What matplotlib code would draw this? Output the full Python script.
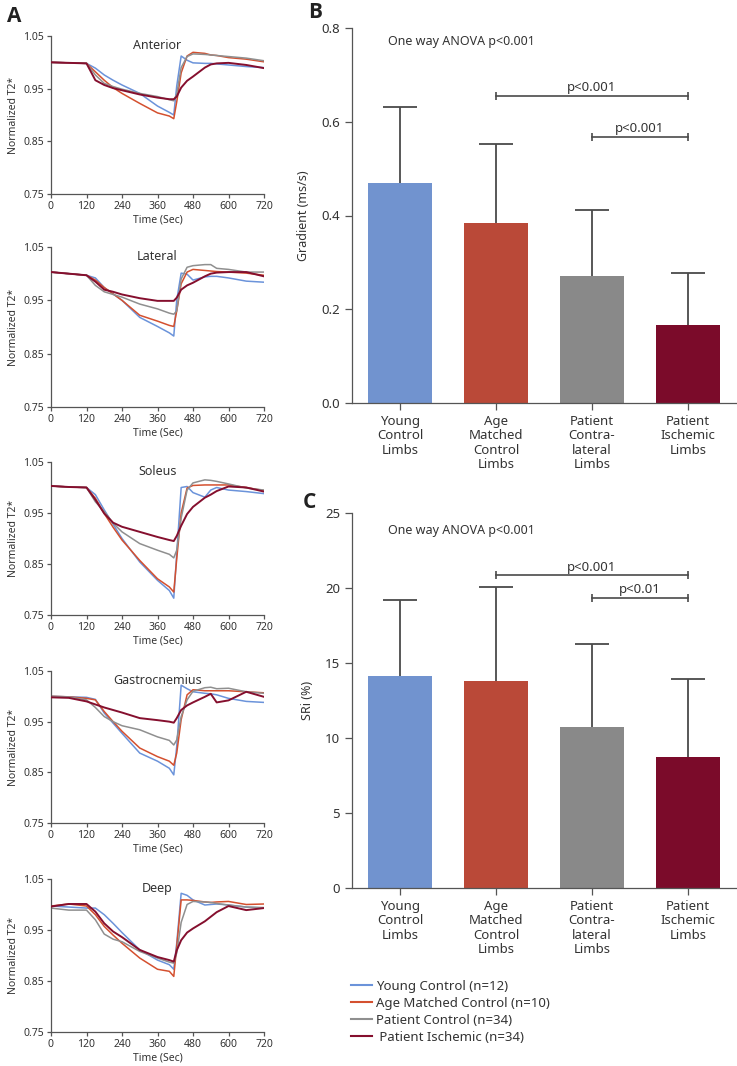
import matplotlib
matplotlib.use('Agg')
import matplotlib.pyplot as plt
from matplotlib.lines import Line2D

plt.rcParams['font.family'] = ['Noto Sans', 'DejaVu Sans']

# ---------------- data ----------------
time_sec = [0, 60, 120, 150, 180, 210, 240, 300, 360, 400, 415, 425, 440, 460, 480, 520, 540, 560, 600, 660, 720]

muscles = ['Anterior', 'Lateral', 'Soleus', 'Gastrocnemius', 'Deep']

anterior_young = [1.000, 0.999, 0.998, 0.989, 0.976, 0.966, 0.957, 0.941, 0.917, 0.905, 0.900, 0.955, 1.012, 1.004, 0.999, 0.998, 0.998, 0.997, 0.995, 0.992, 0.990]
anterior_age = [1.000, 0.999, 0.998, 0.982, 0.966, 0.952, 0.941, 0.922, 0.904, 0.898, 0.893, 0.925, 0.980, 1.012, 1.019, 1.017, 1.014, 1.013, 1.009, 1.006, 1.001]
anterior_patient = [1.000, 0.999, 0.998, 0.976, 0.960, 0.954, 0.949, 0.941, 0.935, 0.929, 0.927, 0.940, 0.990, 1.011, 1.016, 1.015, 1.014, 1.013, 1.011, 1.008, 1.003]
anterior_ischemic = [1.000, 0.999, 0.998, 0.966, 0.957, 0.951, 0.947, 0.939, 0.933, 0.930, 0.930, 0.935, 0.952, 0.965, 0.973, 0.990, 0.996, 0.998, 0.999, 0.995, 0.989]

lateral_young = [1.003, 1.000, 0.997, 0.992, 0.974, 0.962, 0.950, 0.918, 0.901, 0.889, 0.883, 0.950, 1.001, 0.999, 0.988, 0.994, 0.995, 0.995, 0.992, 0.986, 0.984]
lateral_age = [1.003, 1.000, 0.997, 0.988, 0.974, 0.962, 0.950, 0.922, 0.911, 0.903, 0.901, 0.930, 0.981, 1.003, 1.008, 1.006, 1.005, 1.004, 1.003, 1.001, 0.997]
lateral_patient = [1.003, 1.000, 0.997, 0.978, 0.966, 0.961, 0.956, 0.943, 0.934, 0.926, 0.924, 0.930, 0.990, 1.012, 1.015, 1.017, 1.017, 1.010, 1.008, 1.003, 1.003]
lateral_ischemic = [1.003, 1.000, 0.997, 0.985, 0.970, 0.966, 0.961, 0.954, 0.949, 0.949, 0.949, 0.955, 0.970, 0.978, 0.983, 0.995, 1.000, 1.002, 1.003, 1.003, 0.995]

soleus_young = [1.003, 1.001, 1.000, 0.986, 0.956, 0.928, 0.900, 0.854, 0.818, 0.798, 0.783, 0.870, 1.000, 1.002, 0.990, 0.981, 0.995, 1.000, 0.995, 0.992, 0.988]
soleus_age = [1.003, 1.001, 1.000, 0.979, 0.949, 0.922, 0.897, 0.857, 0.821, 0.805, 0.795, 0.860, 0.950, 0.999, 1.004, 1.005, 1.005, 1.005, 1.005, 1.000, 0.994]
soleus_patient = [1.003, 1.001, 1.000, 0.972, 0.953, 0.930, 0.913, 0.890, 0.877, 0.869, 0.862, 0.877, 0.940, 0.995, 1.009, 1.015, 1.014, 1.012, 1.007, 0.999, 0.995]
soleus_ischemic = [1.003, 1.001, 1.000, 0.976, 0.949, 0.931, 0.923, 0.913, 0.903, 0.897, 0.895, 0.905, 0.925, 0.948, 0.962, 0.980, 0.986, 0.993, 1.002, 1.000, 0.992]

gastro_young = [1.000, 0.999, 0.998, 0.994, 0.967, 0.947, 0.927, 0.888, 0.872, 0.858, 0.845, 0.901, 1.022, 1.015, 1.009, 1.006, 1.005, 1.003, 0.996, 0.990, 0.988]
gastro_age = [1.000, 0.999, 0.996, 0.993, 0.970, 0.950, 0.931, 0.898, 0.881, 0.872, 0.864, 0.888, 0.954, 1.003, 1.013, 1.011, 1.011, 1.011, 1.011, 1.009, 1.007]
gastro_patient = [1.000, 0.999, 0.993, 0.978, 0.960, 0.950, 0.942, 0.934, 0.920, 0.913, 0.904, 0.914, 0.960, 0.993, 1.010, 1.017, 1.018, 1.015, 1.016, 1.009, 1.006]
gastro_ischemic = [0.998, 0.997, 0.990, 0.984, 0.978, 0.973, 0.968, 0.957, 0.953, 0.950, 0.948, 0.957, 0.973, 0.982, 0.988, 0.999, 1.005, 0.988, 0.992, 1.009, 0.999]

deep_young = [0.997, 0.995, 0.993, 0.993, 0.980, 0.963, 0.945, 0.911, 0.891, 0.882, 0.873, 0.924, 1.022, 1.018, 1.009, 0.999, 1.000, 1.001, 0.999, 0.995, 0.993]
deep_age = [0.997, 1.001, 0.997, 0.980, 0.957, 0.940, 0.924, 0.895, 0.873, 0.869, 0.859, 0.918, 1.009, 1.009, 1.008, 1.005, 1.004, 1.005, 1.006, 1.000, 1.001]
deep_patient = [0.993, 0.989, 0.989, 0.970, 0.942, 0.932, 0.927, 0.908, 0.895, 0.887, 0.885, 0.905, 0.965, 1.000, 1.006, 1.005, 1.004, 1.002, 0.999, 0.995, 0.994]
deep_ischemic = [0.996, 1.001, 1.001, 0.986, 0.963, 0.947, 0.936, 0.911, 0.897, 0.891, 0.888, 0.910, 0.930, 0.945, 0.953, 0.967, 0.976, 0.985, 0.997, 0.989, 0.993]

legend_labels = ['Young Control (n=12)', 'Age Matched Control (n=10)',
                 'Patient Control (n=34)', ' Patient Ischemic (n=34)']

bar_categories = ['Young\nControl\nLimbs', 'Age\nMatched\nControl\nLimbs',
                  'Patient\nContra-\nlateral\nLimbs', 'Patient\nIschemic\nLimbs']
gradient_mean = [0.470, 0.384, 0.270, 0.166]
gradient_sd = [0.162, 0.169, 0.142, 0.112]
sri_mean = [14.13, 13.80, 10.76, 8.74]
sri_sd = [5.07, 6.30, 5.52, 5.21]

gradient_sig = [(1, 3, 'p<0.001', 0.656), (2, 3, 'p<0.001', 0.567)]
sri_sig = [(1, 3, 'p<0.001', 20.85), (2, 3, 'p<0.01', 19.34)]

# ---------------- style ----------------
line_colors = ['#6B93DA', '#D4502F', '#8F8F8F', '#850F2E']
bar_colors = ['#7193CF', '#BA4938', '#898989', '#7B0B2A']
text_col = '#333333'
spine_col = '#555555'

W, H = 737, 1066
fig = plt.figure(figsize=(W / 100, H / 100), dpi=100)


def ax_px(l, t, r, b):
    return fig.add_axes([l / W, 1 - b / H, (r - l) / W, (b - t) / H])


def style_axes(ax, ticksize):
    for s in ['top', 'right']:
        ax.spines[s].set_visible(False)
    for s in ['left', 'bottom']:
        ax.spines[s].set_color(spine_col)
        ax.spines[s].set_linewidth(0.9)
    ax.tick_params(colors=spine_col, labelcolor=text_col, labelsize=ticksize,
                   width=0.9, direction='out')


# ---------------- panel A ----------------
series_by_muscle = [
    [anterior_young, anterior_age, anterior_patient, anterior_ischemic],
    [lateral_young, lateral_age, lateral_patient, lateral_ischemic],
    [soleus_young, soleus_age, soleus_patient, soleus_ischemic],
    [gastro_young, gastro_age, gastro_patient, gastro_ischemic],
    [deep_young, deep_age, deep_patient, deep_ischemic],
]
tops = [36, 247, 462, 671, 879]
bottoms = [194, 407, 615, 823, 1032]
for i, name in enumerate(muscles):
    ax = ax_px(51, tops[i], 264, bottoms[i])
    style_axes(ax, 7.5)
    for j, ser in enumerate(series_by_muscle[i]):
        ax.plot(time_sec, ser, color=line_colors[j], lw=1.4 if j == 3 else 1.1,
                zorder=2 + (j == 3), solid_joinstyle='round')
    ax.set_xlim(0, 720)
    ax.set_ylim(0.75, 1.05)
    ax.set_xticks(range(0, 721, 120))
    ax.set_yticks([0.75, 0.85, 0.95, 1.05])
    ax.set_yticklabels(['0.75', '0.85', '0.95', '1.05'])
    ax.tick_params(length=3, pad=2)
    ax.set_xlabel('Time (Sec)', fontsize=7.5, color=text_col, labelpad=2)
    ax.set_ylabel('Normalized T2*', fontsize=7.5, color=text_col, labelpad=3)
    ax.text(0.5, 0.98, name, transform=ax.transAxes, ha='center', va='top',
            fontsize=9, color=text_col)

letter_kw = dict(fontsize=15, fontweight='bold', color='#222222',
                 family=['Open Sans', 'DejaVu Sans'], ha='center', va='center')
fig.text(14 / W, 1 - 17 / H, 'A', **letter_kw)


# ---------------- bar panels ----------------
def bar_panel(ax, means, sds, ylim, yticks, yticklabels, ylabel, sig, anova_y, bracket_tick):
    style_axes(ax, 9.5)
    x = list(range(len(means)))
    ax.bar(x, means, width=0.66, color=bar_colors, zorder=2)
    eb = ax.errorbar(x, means, yerr=[[0] * len(sds), sds], fmt='none', ecolor='#4a4a4a',
                     elinewidth=1.3, capsize=12, capthick=1.3, zorder=3)
    eb[1][0].set_visible(False)
    ax.set_xlim(-0.5, 3.5)
    ax.set_ylim(*ylim)
    ax.set_yticks(yticks)
    ax.set_yticklabels(yticklabels)
    ax.set_xticks(x)
    ax.set_xticklabels(bar_categories, fontsize=9.5, color=text_col, linespacing=1.15)
    ax.tick_params(length=5)
    ax.set_ylabel(ylabel, fontsize=9, color=text_col, labelpad=8)
    ax.text(0.095, anova_y, 'One way ANOVA p<0.001', transform=ax.get_yaxis_transform(),
            fontsize=9, color=text_col, ha='left', va='center')
    for a, b, lab, yy in sig:
        ax.plot([a, b], [yy, yy], color='#4a4a4a', lw=1.2, marker='|', markersize=6,
                markeredgewidth=1.2, zorder=3)
        ax.text((a + b) / 2, yy + bracket_tick, lab, ha='center', va='bottom',
                fontsize=9.5, color=text_col)


axB = ax_px(352, 28, 736, 403)
bar_panel(axB, gradient_mean, gradient_sd, (0, 0.8), [0, 0.2, 0.4, 0.6, 0.8],
          ['0.0', '0.2', '0.4', '0.6', '0.8'], 'Gradient (ms/s)', gradient_sig, 0.772, 0.004)
fig.text(315 / W, 1 - 13 / H, 'B', **letter_kw)

axC = ax_px(352, 513, 736, 888)
bar_panel(axC, sri_mean, sri_sd, (0, 25), [0, 5, 10, 15, 20, 25],
          ['0', '5', '10', '15', '20', '25'], 'SRi (%)', sri_sig, 23.8, 0.1)
fig.text(309 / W, 1 - 503 / H, 'C', **letter_kw)

# ---------------- legend ----------------
handles = [Line2D([0], [0], color=c, lw=1.5) for c in line_colors]
fig.legend(handles, legend_labels, loc='upper left',
           bbox_to_anchor=(339 / W, 1 - 968 / H), frameon=False, fontsize=9.5,
           handlelength=1.6, handletextpad=0.3, labelspacing=0.3, labelcolor=text_col)

fig.savefig('out.png', dpi=100)
